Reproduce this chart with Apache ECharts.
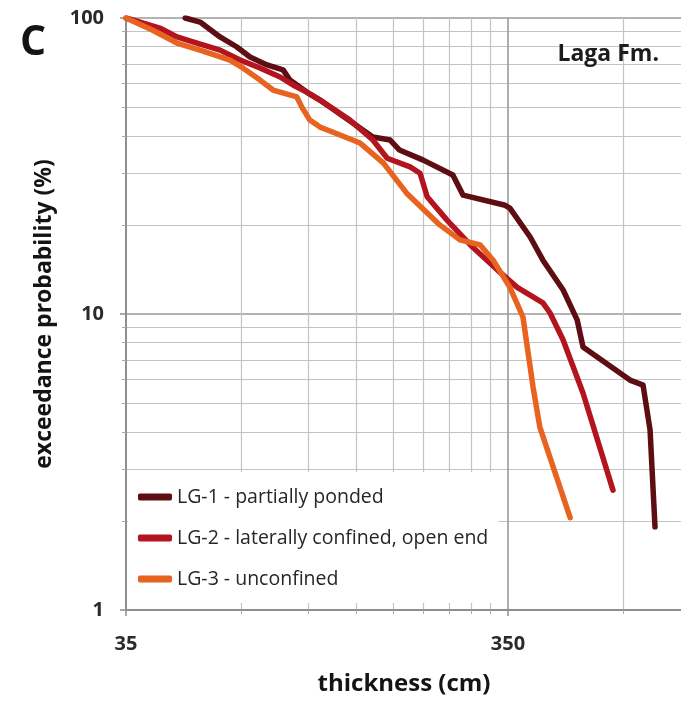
<!DOCTYPE html>
<html>
<head>
<meta charset="utf-8">
<script src="https://cdn.jsdelivr.net/npm/echarts@6/dist/echarts.min.js"></script>
<style>
  html, body { margin: 0; padding: 0; background: #fff; }
  #chart { width: 681px; height: 701px; }
</style>
</head>
<body>
<div id="chart"></div>
<script>
// Bed-thickness exceedance curves, Laga Formation
const seriesNames = [
  'LG-1 - partially ponded',
  'LG-2 - laterally confined, open end',
  'LG-3 - unconfined'
];
const seriesColors = ['#5e0e12', '#b3141d', '#e8631f'];

// thickness (cm) and exceedance probability (%) for each lobe group
const lg1Thickness  = [50, 54.7, 61.7, 68.3, 73.9, 81.9, 90.2, 94, 104, 112.7, 119.7, 155, 172, 182, 210, 251, 267, 344, 354, 400, 432, 488, 531, 550, 730, 790, 824, 849];
const lg1Exceedance = [100, 96.9, 86.3, 79.8, 73.8, 69.4, 66.8, 61.7, 56.2, 52.8, 50.0, 39.6, 38.7, 35.8, 33.1, 29.5, 25.2, 23.3, 22.8, 18.2, 15.2, 12.05, 9.55, 7.74, 5.98, 5.75, 4.06, 1.91];

const lg2Thickness  = [35, 42.9, 47.6, 52.4, 61.7, 69.6, 78.5, 88.6, 95.8, 104, 112.7, 135, 155, 169, 194, 206, 215, 242, 283, 328, 370, 432, 451, 488, 550, 659];
const lg2Exceedance = [100, 92.5, 86.3, 83, 77.9, 72.1, 67.8, 63.2, 59.4, 56.2, 52.8, 45.2, 38.7, 33.6, 31.4, 29.9, 24.9, 20.8, 16.8, 14.1, 12.3, 10.9, 10.08, 8.17, 5.41, 2.54];

const lg3Thickness  = [35, 41, 47.6, 54.7, 65.5, 70.8, 78.5, 84.9, 98, 101, 106, 112.7, 119.7, 143.5, 165, 190, 232, 262, 296, 320, 354, 383, 407, 424, 509];
const lg3Exceedance = [100, 91.1, 82.3, 77.9, 72.1, 67.8, 61.7, 57.1, 54.1, 50, 45.2, 42.8, 41.5, 37.8, 32.4, 25.6, 20, 17.8, 17.1, 15.2, 12.3, 9.77, 5.67, 4.15, 2.05];

// axis ranges: thickness spans 35–3500 cm, probability 1–100 %
const thicknessRange = [35, 3500];
const probabilityRange = [1, 100];

const thicknessSets  = [lg1Thickness, lg2Thickness, lg3Thickness];
const exceedanceSets = [lg1Exceedance, lg2Exceedance, lg3Exceedance];

const FONT = '"Open Sans", Lato, sans-serif';

const chart = echarts.init(document.getElementById('chart'), null, { renderer: 'canvas' });

const roundLabel = v => String(Math.round(v));

const logAxisCommon = {
  type: 'log',
  logBase: 10,
  // one decade per major tick; the tiny excess keeps full precision in log space
  interval: 1.00000001,
  axisLine: { show: true, lineStyle: { color: '#8e8e8e', width: 2 } },
  axisTick: { show: true, length: 6, lineStyle: { color: '#8e8e8e', width: 1.5 } },
  minorTick: { show: true, splitNumber: 9, length: 4, lineStyle: { color: '#a8a8a8', width: 1 } },
  splitLine: { show: true, lineStyle: { color: '#9a9a9a', width: 1.6 } },
  minorSplitLine: { show: true, lineStyle: { color: '#c4c4c4', width: 1.2 } },
  axisLabel: { color: '#2a2a2a', fontSize: 20, fontWeight: 'bold', fontFamily: FONT, formatter: roundLabel }
};

const option = {
  backgroundColor: '#ffffff',
  animation: false,
  title: [
    { text: 'C', left: 15, top: 18, textStyle: { fontSize: 41, fontWeight: 'bold', color: '#141414', fontFamily: FONT } },
    { text: 'Laga Fm.', right: 17, top: 38, textStyle: { fontSize: 23, fontWeight: 'bold', color: '#1c1c1c', fontFamily: FONT } }
  ],
  grid: { left: 126, top: 18, width: 764, bottom: 91, outerBoundsMode: 'none', containLabel: false },
  xAxis: Object.assign({}, logAxisCommon, {
    min: thicknessRange[0],
    max: thicknessRange[1],
    axisLabel: Object.assign({}, logAxisCommon.axisLabel, { margin: 24 })
  }),
  yAxis: Object.assign({}, logAxisCommon, {
    min: probabilityRange[0],
    max: probabilityRange[1],
    name: 'exceedance probability (%)',
    nameLocation: 'middle',
    nameGap: 70,
    nameTextStyle: { fontSize: 23, fontWeight: 'bold', color: '#141414', fontFamily: FONT },
    axisLabel: Object.assign({}, logAxisCommon.axisLabel, { margin: 22 })
  }),
  legend: {
    data: seriesNames,
    orient: 'vertical',
    left: 128,
    top: 472,
    icon: 'roundRect',
    itemWidth: 34,
    itemHeight: 7,
    itemGap: 21,
    padding: [15, 10, 14, 10],
    backgroundColor: '#ffffff',
    textStyle: { fontSize: 19.5, color: '#262626', fontFamily: FONT }
  },
  graphic: [
    {
      type: 'text',
      x: 404,
      y: 684,
      style: {
        text: 'thickness (cm)', fontSize: 24, fontWeight: 'bold', fill: '#141414', fontFamily: FONT,
        textAlign: 'center', textVerticalAlign: 'middle'
      }
    }
  ],
  series: seriesNames.map((name, i) => ({
    name: name,
    type: 'line',
    showSymbol: false,
    symbol: 'none',
    clip: true,
    color: seriesColors[i],
    lineStyle: { width: 5.5, color: seriesColors[i], cap: 'round', join: 'round' },
    data: thicknessSets[i].map((t, k) => [t, exceedanceSets[i][k]])
  }))
};

chart.setOption(option);
</script>
</body>
</html>
